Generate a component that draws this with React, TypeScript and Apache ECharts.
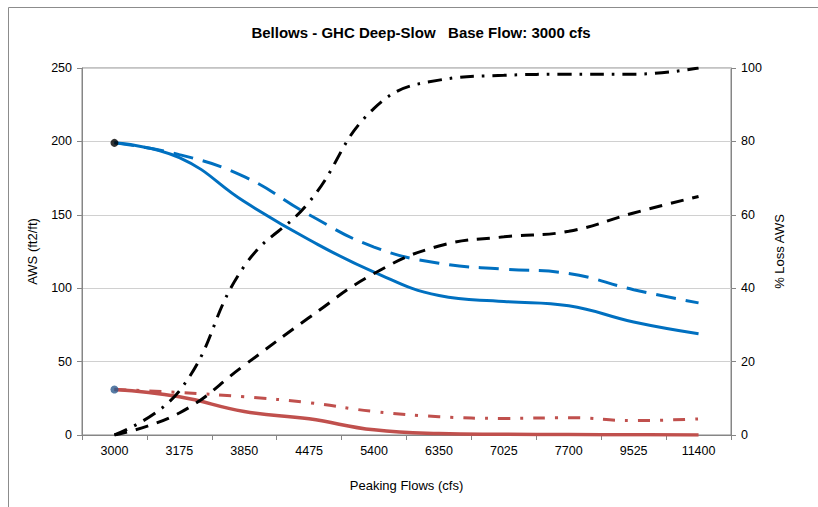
import React, { useEffect, useRef } from "react";
import * as echarts from "echarts";

const titleText = "Bellows - GHC Deep-Slow   Base Flow: 3000 cfs";
const categories = ["3000", "3175", "3850", "4475", "5400", "6350", "7025", "7700", "9525", "11400"];
const awsBlueSolid = [199, 189, 159, 133, 111, 95, 91, 88, 77, 69];
const awsBlueDashed = [199, 191, 176, 150, 128, 117, 113, 110, 99, 90];
const awsRedSolid = [31, 26, 16, 11, 3.5, 1, 0.5, 0.3, 0.2, 0];
const awsRedDashDot = [31, 29, 26, 22, 16, 12.5, 11.3, 11.8, 9.8, 11];
const lossDashed = [0, 6, 19, 32, 44, 51.5, 54, 55.5, 60.5, 65];
const lossDashDot = [0, 12, 46, 63.5, 89, 96.7, 98, 98.3, 98.3, 100];

const FONT = "Liberation Sans, Arial, sans-serif";

export default function App() {
  const ref = useRef<HTMLDivElement>(null);
  useEffect(() => {
    if (!ref.current) return;
    const chart = echarts.init(ref.current, null, { renderer: "svg" });
    const lineBase = { type: "line", showSymbol: false, smooth: 0.45, z: 3 };
    chart.setOption({
      animation: false,
      backgroundColor: "#fff",
      textStyle: { fontFamily: FONT },
      title: {
        text: titleText,
        left: 416,
        top: 20,
        textAlign: "center",
        textStyle: { fontFamily: FONT, fontSize: 15, fontWeight: "bold", color: "#000" },
      },
      graphic: [
        {
          type: "rect",
          shape: { x: 8.5, y: 7.5, width: 1000, height: 1000 },
          style: { fill: "none", stroke: "#8c8c8c", lineWidth: 1 },
          silent: true,
        },
      ],
      grid: {
        left: 82,
        right: 87,
        top: 68,
        bottom: 72,
        show: true,
        borderColor: "#868686",
        borderWidth: 1,
        backgroundColor: "transparent",
      },
      xAxis: {
        type: "category",
        data: categories,
        boundaryGap: true,
        name: "Peaking Flows (cfs)",
        nameLocation: "middle",
        nameGap: 44,
        nameTextStyle: { fontFamily: FONT, fontSize: 13, color: "#000" },
        axisLine: { lineStyle: { color: "#868686" } },
        axisTick: { show: true, length: 5, lineStyle: { color: "#868686" } },
        axisLabel: { fontFamily: FONT, fontSize: 12.5, color: "#000", margin: 9 },
        splitLine: { show: false },
      },
      yAxis: [
        {
          type: "value",
          min: 0,
          max: 250,
          interval: 50,
          name: "AWS (ft2/ft)",
          nameLocation: "middle",
          nameGap: 43,
          nameRotate: 90,
          nameTextStyle: { fontFamily: FONT, fontSize: 13, color: "#000" },
          axisLine: { show: true, lineStyle: { color: "#868686" } },
          axisTick: { show: true, length: 5, lineStyle: { color: "#868686" } },
          axisLabel: { fontFamily: FONT, fontSize: 12.5, color: "#000", margin: 10 },
          splitLine: { show: true, lineStyle: { color: "#d0d0d0", width: 1 } },
        },
        {
          type: "value",
          min: 0,
          max: 100,
          interval: 20,
          position: "right",
          name: "% Loss AWS",
          nameLocation: "middle",
          nameGap: 38,
          nameRotate: 90,
          nameTextStyle: { fontFamily: FONT, fontSize: 13, color: "#000" },
          axisLine: { show: true, lineStyle: { color: "#868686" } },
          axisTick: { show: true, length: 5, lineStyle: { color: "#868686" } },
          axisLabel: { fontFamily: FONT, fontSize: 12.5, color: "#000", margin: 10 },
          splitLine: { show: false },
        },
      ],
      series: [
        {
          ...lineBase,
          name: "AWS blue dashed",
          yAxisIndex: 0,
          data: awsBlueDashed,
          lineStyle: { color: "#0070C0", width: 3, type: [20, 10] },
        },
        {
          ...lineBase,
          name: "AWS blue solid",
          yAxisIndex: 0,
          data: awsBlueSolid,
          lineStyle: { color: "#0070C0", width: 3, type: "solid" },
        },
        {
          ...lineBase,
          name: "AWS red dash-dot",
          yAxisIndex: 0,
          data: awsRedDashDot,
          lineStyle: { color: "#C0504D", width: 3, type: [12, 10, 3, 10] },
        },
        {
          ...lineBase,
          name: "AWS red solid",
          yAxisIndex: 0,
          data: awsRedSolid,
          lineStyle: { color: "#C0504D", width: 3.5, type: "solid" },
        },
        {
          ...lineBase,
          name: "Loss dashed",
          yAxisIndex: 1,
          data: lossDashed,
          lineStyle: { color: "#000", width: 3, type: [13, 9] },
        },
        {
          ...lineBase,
          name: "Loss dash-dot",
          yAxisIndex: 1,
          data: lossDashDot,
          lineStyle: { color: "#000", width: 3, type: [14, 8, 2.5, 8] },
        },
        {
          type: "scatter",
          yAxisIndex: 0,
          symbol: "circle",
          symbolSize: 8,
          z: 5,
          data: [[0, awsBlueSolid[0]]],
          itemStyle: { color: "#000" },
        },
        {
          type: "scatter",
          yAxisIndex: 0,
          symbol: "circle",
          symbolSize: 8,
          z: 5,
          data: [[0, awsRedSolid[0]]],
          itemStyle: { color: "#2D5B8E" },
        },
      ],
    });
    return () => chart.dispose();
  }, []);
  return (
    <div
      ref={ref}
      style={{ position: "fixed", left: 0, top: 0, width: 818, height: 507 }}
    />
  );
}
